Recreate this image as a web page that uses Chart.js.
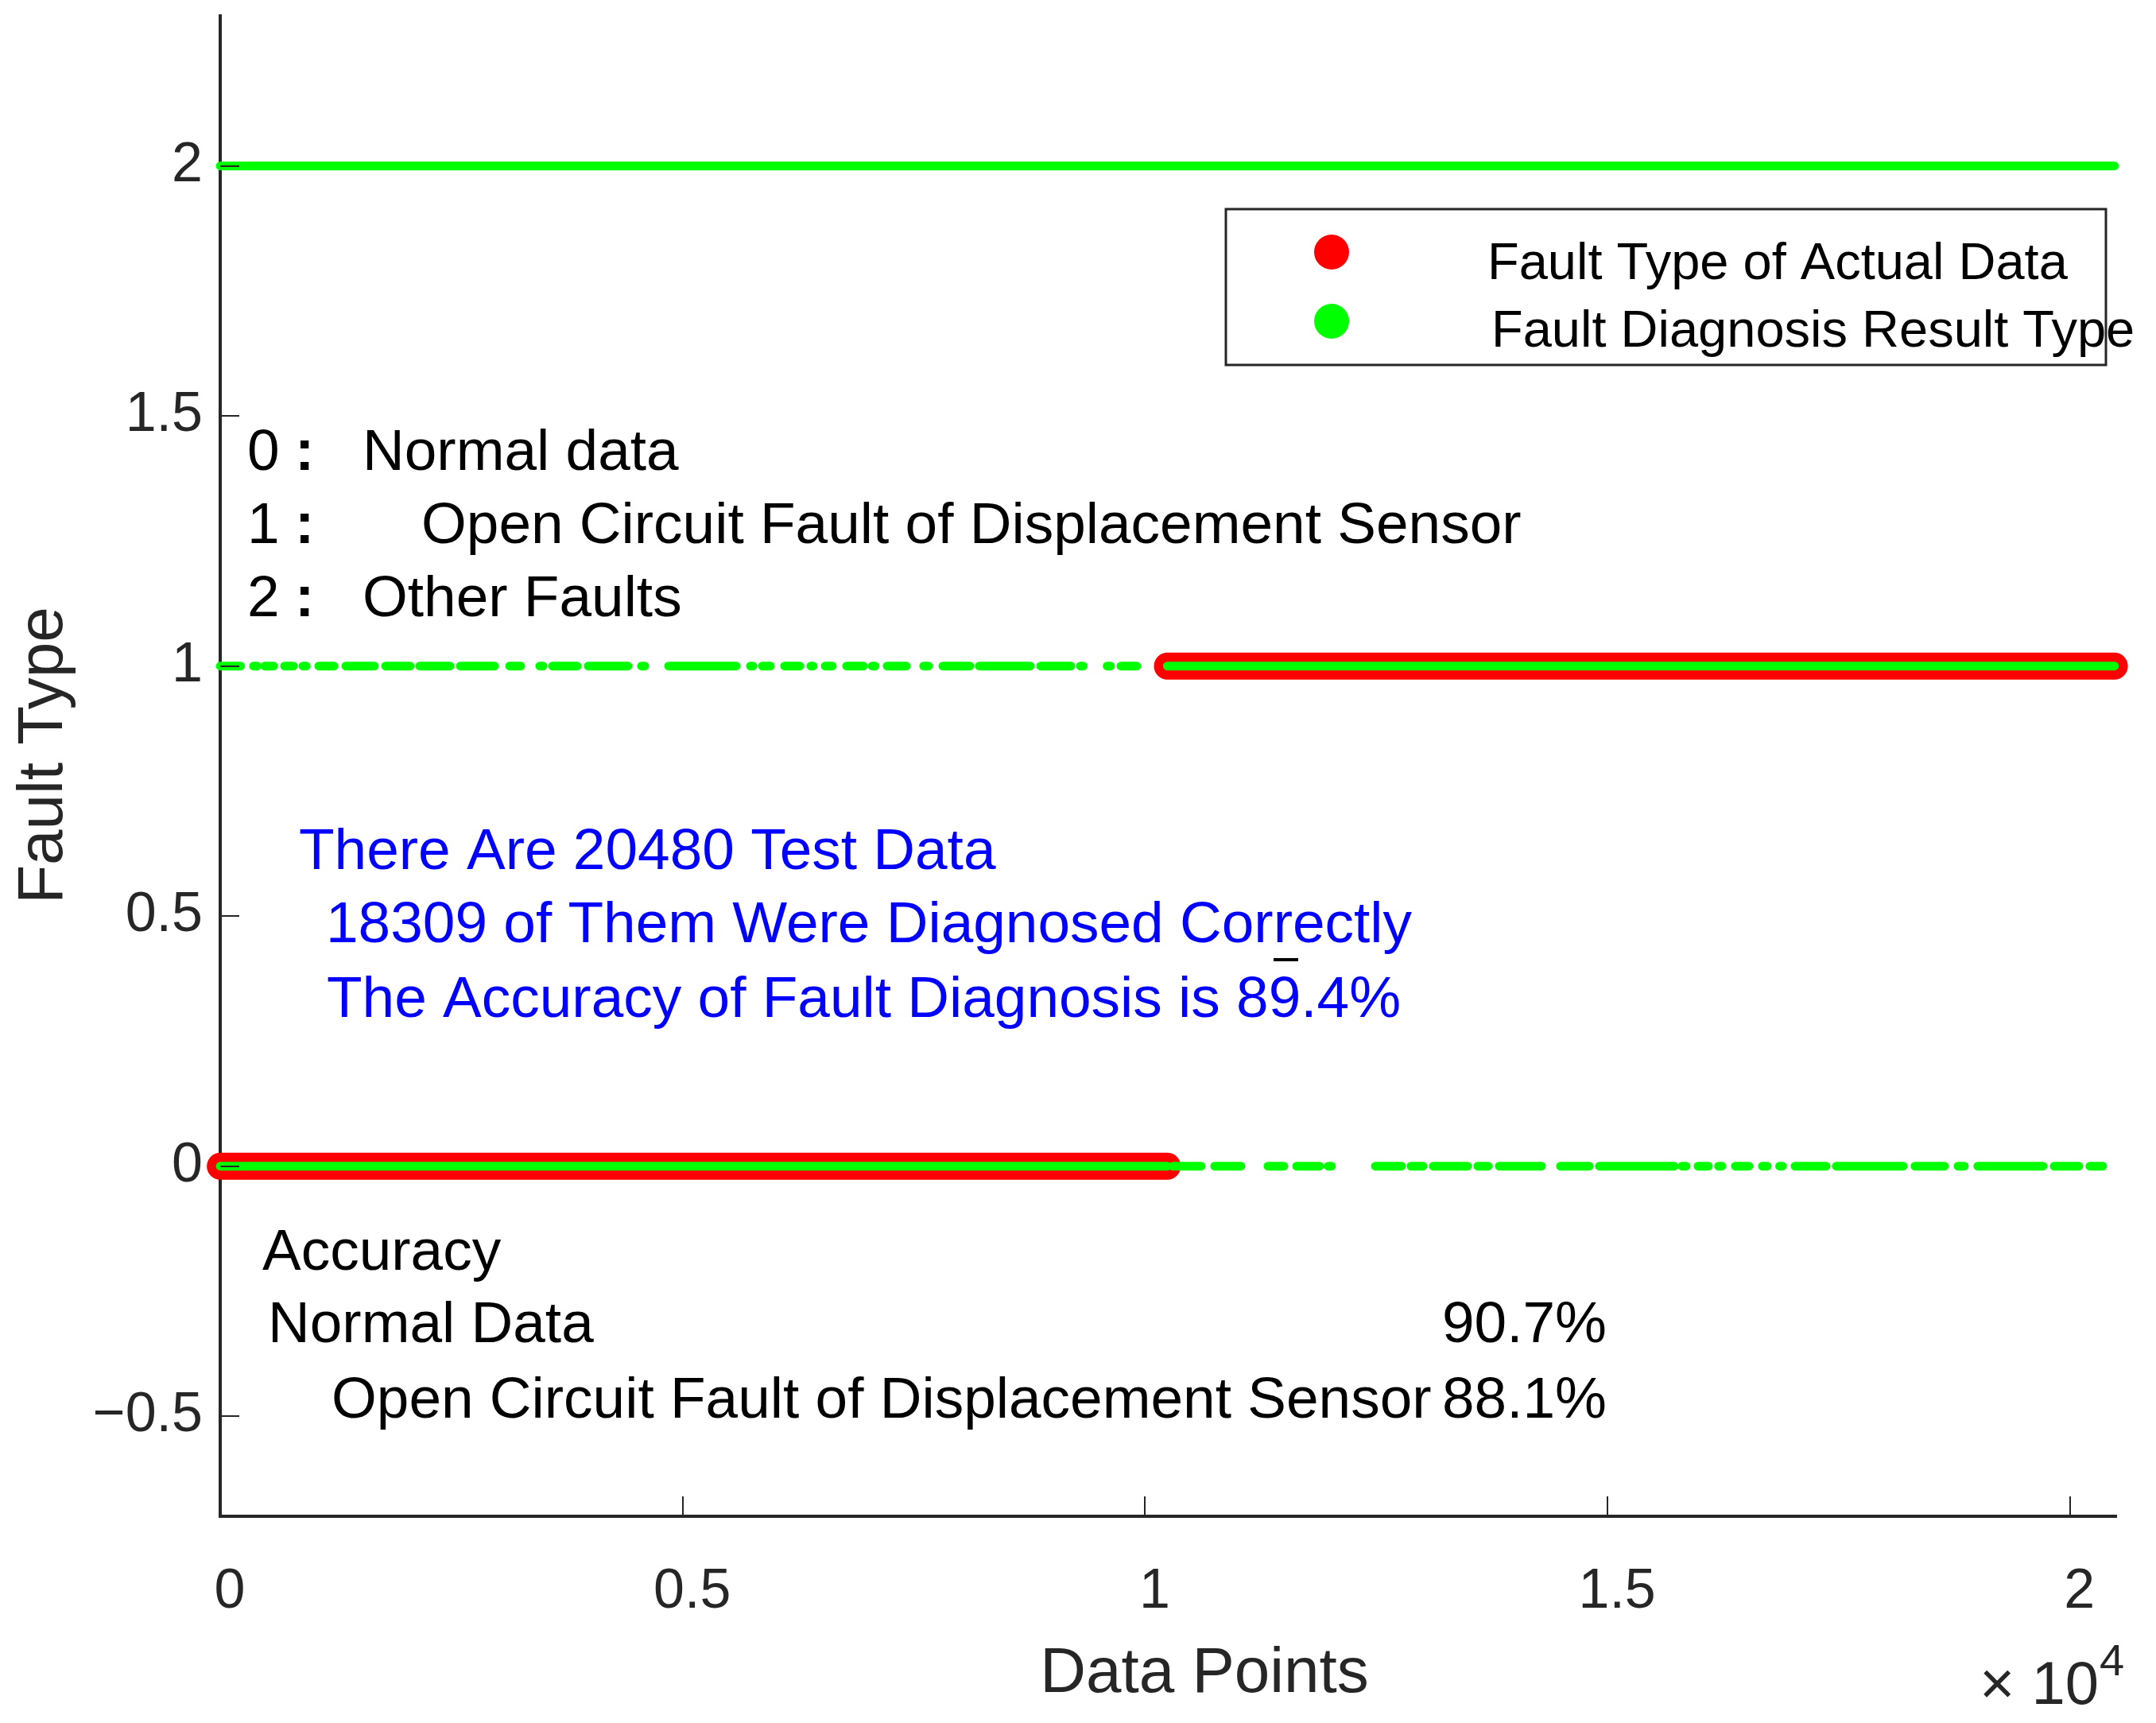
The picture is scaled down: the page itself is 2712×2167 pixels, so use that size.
<!DOCTYPE html>
<html>
<head>
<meta charset="utf-8">
<title>Fault Type</title>
<script src="https://cdn.jsdelivr.net/npm/chart.js@4.4.1/dist/chart.umd.min.js"></script>
<style>
  html, body { margin: 0; padding: 0; background: #fff; }
  #chart { display: block; }
</style>
</head>
<body>
<canvas id="chart" width="2712" height="2167"></canvas>
<script>
// ---- data (x = data point index, y = fault type) ----
// actual fault type: [first index, last index, type]
const actualRuns = [[1, 10240, 0], [10241, 20480, 1]];

// diagnosis result, runs of consecutive points per predicted type
const diagType0Runs = [
    [1, 10240], [10300, 10606], [10752, 11036], [11328, 11500], [11638, 11887],
    [11980, 12015], [12489, 12772], [12875, 13004], [13116, 13486], [13597, 13709],
    [13829, 14285], [14491, 14801], [14912, 15720], [15806, 15849], [15978, 16090],
    [16200, 16235], [16382, 16528], [16674, 16726], [16860, 16890], [17027, 17362],
    [17473, 18196], [18324, 18642], [18789, 18857], [19003, 19708], [19829, 20095],
    [20215, 20353]
];
const diagType1Runs = [
    [1, 220], [360, 400], [481, 576], [696, 791], [895, 930],
    [1066, 1229], [1358, 1667], [1788, 2054], [2157, 2484], [2596, 2965],
    [3129, 3249], [3455, 3490], [3593, 3859], [3979, 4409], [4555, 4590],
    [4848, 5578], [5733, 5760], [5862, 5948], [6102, 6266], [6386, 6410],
    [6541, 6618], [6773, 6953], [7050, 7080], [7211, 7417], [7606, 7658],
    [7813, 8105], [8208, 8758], [8870, 9197], [9300, 9330], [9590, 9625],
    [9738, 9910], [10241, 20480]
];
const diagType2Runs = [[1, 20480]];

const xTickValues = [0, 5000, 10000, 15000, 20000];
const xTickLabels = ['0', '0.5', '1', '1.5', '2'];
const yTickValues = [-0.5, 0, 0.5, 1, 1.5, 2];
const yTickLabels = ['\u22120.5', '0', '0.5', '1', '1.5', '2'];

const seriesNames = ['Fault Type of Actual Data', 'Fault Diagnosis Result Type'];
const classCodes = ['0', '1', '2'];
const classNames = ['Normal data', 'Open Circuit Fault of Displacement Sensor', 'Other Faults'];
const summaryLines = [
    'There Are 20480 Test Data',
    '18309 of Them Were Diagnosed Correctly',
    'The Accuracy of Fault Diagnosis is 89.4%'
];
const accuracyTitle = 'Accuracy';
const accuracyNames = ['Normal Data', 'Open Circuit Fault of Displacement Sensor'];
const accuracyValues = ['90.7%', '88.1%'];

// ---- styling ----
const FONT = '"Liberation Sans", Arial, "Noto Sans CJK SC", sans-serif';
const AXIS = '#262626';
const RED = '#ff0000';
const GREEN = '#00ff00';

// turn runs into line points, with a null between runs so the line breaks
function runsToPoints(runs, level) {
    const pts = [];
    runs.forEach(r => {
        const y = level === undefined ? r[2] : level;
        pts.push({ x: r[0], y: y }, { x: r[1], y: y }, { x: r[1] + 1, y: null });
    });
    return pts;
}

function lineSet(label, data, color, width, order) {
    return {
        label: label,
        data: data,
        borderColor: color,
        backgroundColor: color,
        borderWidth: width,
        borderCapStyle: 'round',
        borderJoinStyle: 'round',
        pointRadius: 0,
        spanGaps: false,
        clip: false,
        order: order
    };
}

function text(ctx, str, x, y, size, color, align, weight) {
    ctx.font = (weight || '') + ' ' + size + 'px ' + FONT;
    ctx.fillStyle = color;
    ctx.textAlign = align || 'left';
    ctx.textBaseline = 'alphabetic';
    ctx.fillText(str, x, y);
}

const decorPlugin = {
    id: 'decor',
    afterDraw(chart) {
        const { ctx, chartArea: a, scales: { x, y } } = chart;
        ctx.save();

        // inward tick marks
        ctx.strokeStyle = AXIS;
        ctx.lineWidth = 2;
        ctx.beginPath();
        xTickValues.forEach(v => {
            const px = Math.round(x.getPixelForValue(v));
            ctx.moveTo(px, a.bottom);
            ctx.lineTo(px, a.bottom - 25);
        });
        yTickValues.forEach(v => {
            const py = Math.round(y.getPixelForValue(v));
            ctx.moveTo(a.left, py);
            ctx.lineTo(a.left + 24, py);
        });
        ctx.stroke();

        // axis titles
        text(ctx, 'Data Points', 1515, 2128, 80, AXIS, 'center');
        ctx.save();
        ctx.translate(78, 950);
        ctx.rotate(-Math.PI / 2);
        text(ctx, 'Fault Type', 0, 0, 80, AXIS, 'center');
        ctx.restore();
        text(ctx, '\u00D7 10', 2490, 2143, 76, AXIS);
        text(ctx, '4', 2641, 2107, 56, AXIS);

        // class notes
        const noteBase = [591, 683, 775];
        const noteX = [456, 530, 456];
        classCodes.forEach((c, i) => {
            text(ctx, c, 311, noteBase[i], 73, '#000');
            text(ctx, ':', 371, noteBase[i], 73, '#000', 'left', 'bold');
            text(ctx, classNames[i], noteX[i], noteBase[i], 73, '#000');
        });

        // summary in blue
        const sumX = [376, 410, 411];
        const sumBase = [1093, 1185, 1279];
        summaryLines.forEach((s, i) => text(ctx, s, sumX[i], sumBase[i], 73, '#0000ff'));
        ctx.fillStyle = '#000';
        ctx.fillRect(1602, 1205, 31, 4);

        // accuracy block
        text(ctx, accuracyTitle, 330, 1597, 73, '#000');
        const accX = [337, 417];
        const accBase = [1688, 1783];
        accuracyNames.forEach((s, i) => {
            text(ctx, s, accX[i], accBase[i], 73, '#000');
            text(ctx, accuracyValues[i], 1814, accBase[i], 73, '#000');
        });

        // legend
        const box = { left: 1542, top: 263, width: 1107, height: 196 };
        ctx.fillStyle = '#fff';
        ctx.fillRect(box.left, box.top, box.width, box.height);
        ctx.strokeStyle = AXIS;
        ctx.lineWidth = 3;
        ctx.strokeRect(box.left, box.top, box.width, box.height);
        const markColors = [RED, GREEN];
        const markY = [317, 404];
        const labelX = [1871, 1876];
        const labelBase = [351, 436];
        seriesNames.forEach((name, i) => {
            ctx.beginPath();
            ctx.fillStyle = markColors[i];
            ctx.arc(1675, markY[i], 22, 0, Math.PI * 2);
            ctx.fill();
            text(ctx, name, labelX[i], labelBase[i], 65, '#000');
        });

        ctx.restore();
    }
};

const tickFont = { family: FONT, size: 70 };

new Chart(document.getElementById('chart'), {
    type: 'line',
    data: {
        datasets: [
            lineSet(seriesNames[1], runsToPoints(diagType0Runs, 0), GREEN, 11, 0),
            lineSet(seriesNames[1], runsToPoints(diagType1Runs, 1), GREEN, 11, 0),
            lineSet(seriesNames[1], runsToPoints(diagType2Runs, 2), GREEN, 11, 0),
            lineSet(seriesNames[0], runsToPoints(actualRuns), RED, 34, 1)
        ]
    },
    options: {
        responsive: false,
        animation: false,
        devicePixelRatio: 1,
        events: [],
        layout: { padding: { left: 0, top: 20, right: 50, bottom: 0 } },
        plugins: {
            legend: { display: false },
            tooltip: { enabled: false }
        },
        scales: {
            x: {
                type: 'linear',
                min: 0,
                max: 20500,
                afterBuildTicks: s => { s.ticks = xTickValues.map(v => ({ value: v })); },
                afterFit: s => { s.height = 260; s.paddingLeft = 0; s.paddingRight = 0; },
                grid: { display: false, drawTicks: false },
                border: { display: true, color: AXIS, width: 4 },
                ticks: {
                    font: tickFont,
                    color: AXIS,
                    padding: 54,
                    labelOffset: 12,
                    maxRotation: 0,
                    autoSkip: false,
                    callback: (v, i) => xTickLabels[i]
                }
            },
            y: {
                type: 'linear',
                min: -0.7,
                max: 2.3,
                afterBuildTicks: s => { s.ticks = yTickValues.map(v => ({ value: v })); },
                afterFit: s => { s.width = 277; s.paddingTop = 0; s.paddingBottom = 0; },
                grid: { display: false, drawTicks: false },
                border: { display: true, color: AXIS, width: 4 },
                ticks: {
                    font: tickFont,
                    color: AXIS,
                    padding: 22,
                    autoSkip: false,
                    callback: (v, i) => yTickLabels[i]
                }
            }
        }
    },
    plugins: [decorPlugin]
});
</script>
</body>
</html>
